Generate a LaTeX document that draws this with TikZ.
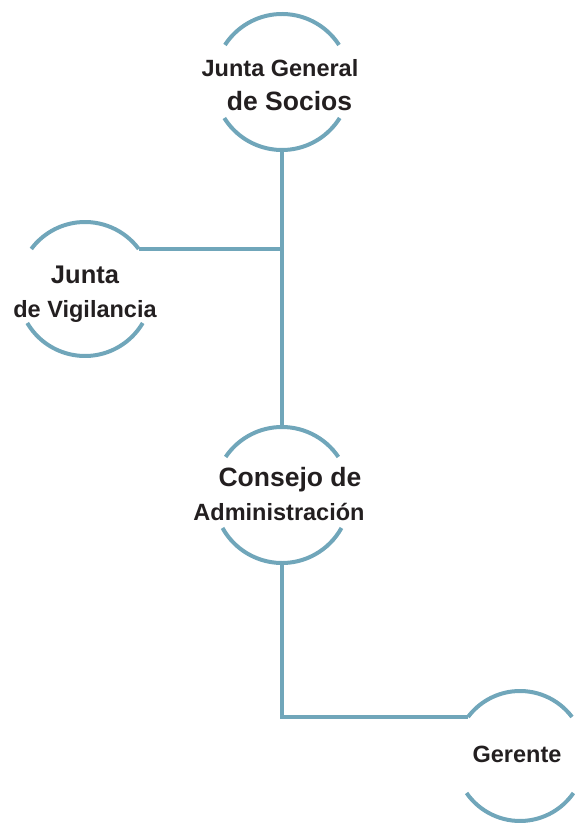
\documentclass[tikz,border=0pt]{standalone}
\usepackage{fontspec}
\setmainfont{Liberation Sans}
\definecolor{ringblue}{RGB}{112,166,186}
\definecolor{txtdark}{RGB}{35,31,32}
\begin{document}
\begin{tikzpicture}[x=1pt,y=1pt,
  ring/.style={circle,inner sep=0pt,minimum size=#1},
  link/.style={draw=ringblue,line width=4pt},
  lbl/.style={inner sep=0pt,align=center,text=txtdark,
    font=\fontsize{23.5}{34}\selectfont\bfseries}]
\useasboundingbox (0,0) rectangle (574,824);
% circle anchors
\node[ring=136pt] (c1) at (282,742) {};
\node[ring=134pt] (c2) at (85,535) {};
\node[ring=136pt] (c3) at (282,329) {};
\node[ring=130pt] (c4) at (520,68) {};
% ring arcs (top and bottom parts)
\draw[link] ([shift={(33:68)}]c1.center) arc[start angle=33,end angle=147,radius=68];
\draw[link] ([shift={(212:68)}]c1.center) arc[start angle=212,end angle=328,radius=68];
\draw[link] ([shift={(36.7:67)}]c2.center) coordinate (v2) arc[start angle=36.7,end angle=143.3,radius=67];
\draw[link] ([shift={(210.5:67)}]c2.center) arc[start angle=210.5,end angle=329.5,radius=67];
\draw[link] ([shift={(34:68)}]c3.center) arc[start angle=34,end angle=146,radius=68];
\draw[link] ([shift={(209:68)}]c3.center) arc[start angle=209,end angle=331,radius=68];
\draw[link] ([shift={(36.9:65)}]c4.center) arc[start angle=36.9,end angle=143.1,radius=65] coordinate (v4);
\draw[link] ([shift={(214.7:65)}]c4.center) arc[start angle=214.7,end angle=325.3,radius=65];
% connectors
\draw[link] (c1.south) -- (c3.north);
\draw[link] (v2) -- (v2 -| c1.south);
\draw[link] (c3.south) |- (v4);
% labels
\node[lbl] (t1) at (280,738.4) {Junta General\\\hspace*{19pt}{\fontsize{26.5}{34}\selectfont de Socios}};
\node[lbl] (t2) at (85,530.1) {{\fontsize{25.5}{34}\selectfont Junta}\\de Vigilancia};
\node[lbl] (t3) at (279,330) {\hspace*{22pt}{\fontsize{26.5}{34}\selectfont Consejo de}\\Administración};
\node[lbl] (t4) at (517,69.5) {Gerente};
\end{tikzpicture}
\end{document}
